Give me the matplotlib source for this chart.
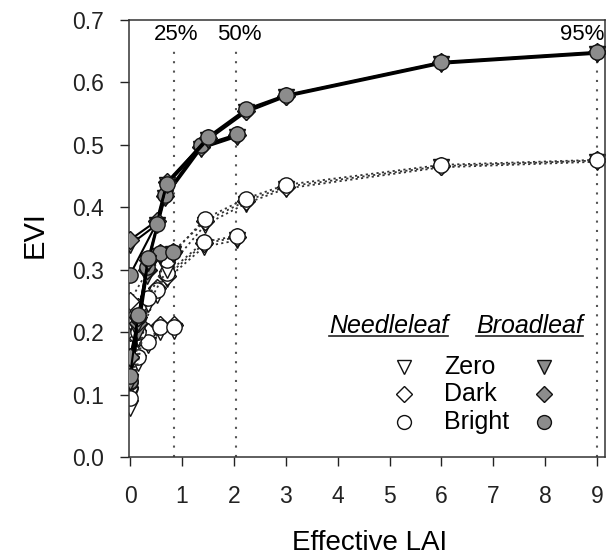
import matplotlib
matplotlib.use("Agg")
import matplotlib.pyplot as plt
import numpy as np
from matplotlib.lines import Line2D
from matplotlib.ticker import FormatStrFormatter

plt.rcParams['font.family'] = ['Liberation Sans', 'DejaVu Sans']

soils = ["Zero", "Dark", "Bright"]
covers = ["25%", "50%", "95%"]
cover_lai = [0.85, 2.05, 9.0]

# needleleaf canopies (effective LAI, EVI per soil background)
needle_lai_25 = [0.0, 0.16, 0.35, 0.58, 0.85]
needle_evi_25 = {"Zero": [0.100, 0.150, 0.180, 0.200, 0.202],
                 "Dark": [0.200, 0.190, 0.200, 0.212, 0.212],
                 "Bright": [0.110, 0.160, 0.185, 0.209, 0.209]}
needle_lai_50 = [0.0, 0.16, 0.51, 0.71, 1.43, 2.06]
needle_evi_50 = {"Zero": [0.100, 0.190, 0.260, 0.285, 0.337, 0.347],
                 "Dark": [0.220, 0.240, 0.270, 0.290, 0.342, 0.352],
                 "Bright": [0.120, 0.200, 0.268, 0.294, 0.345, 0.354]}
needle_lai_95 = [0.0, 0.35, 0.71, 1.45, 2.23, 3.0, 6.0, 9.0]
needle_evi_95 = {"Zero": [0.078, 0.245, 0.300, 0.372, 0.406, 0.430, 0.464, 0.473],
                 "Dark": [0.250, 0.300, 0.320, 0.378, 0.410, 0.433, 0.466, 0.475],
                 "Bright": [0.095, 0.255, 0.316, 0.382, 0.414, 0.436, 0.468, 0.476]}

# broadleaf canopies
broad_lai_25 = [0.0, 0.16, 0.32, 0.58, 0.83]
broad_evi_25 = {"Zero": [0.120, 0.200, 0.290, 0.322, 0.325],
                "Dark": [0.160, 0.215, 0.300, 0.326, 0.328],
                "Bright": [0.121, 0.225, 0.305, 0.327, 0.329]}
broad_lai_50 = [0.0, 0.16, 0.35, 0.67, 1.37, 2.06]
broad_evi_50 = {"Zero": [0.120, 0.215, 0.310, 0.415, 0.494, 0.513],
                "Dark": [0.160, 0.225, 0.315, 0.418, 0.497, 0.515],
                "Bright": [0.130, 0.228, 0.318, 0.420, 0.499, 0.517]}
broad_lai_95 = [0.0, 0.51, 0.71, 1.5, 2.23, 3.0, 6.0, 9.0]
broad_evi_95 = {"Zero": [0.340, 0.372, 0.436, 0.508, 0.552, 0.577, 0.630, 0.646],
                "Dark": [0.348, 0.378, 0.441, 0.511, 0.555, 0.579, 0.632, 0.648],
                "Bright": [0.292, 0.374, 0.438, 0.513, 0.557, 0.580, 0.633, 0.649]}

needle = [(needle_lai_25, needle_evi_25), (needle_lai_50, needle_evi_50),
          (needle_lai_95, needle_evi_95)]
broad = [(broad_lai_25, broad_evi_25), (broad_lai_50, broad_evi_50),
         (broad_lai_95, broad_evi_95)]

markers = {"Zero": "v", "Dark": "D", "Bright": "o"}
msize = {"Zero": 11, "Dark": 9, "Bright": 11}
grey = "#8c8c8c"

fig = plt.figure(figsize=(6.06, 5.56), dpi=100)
ax = fig.add_axes([129/606, 1 - 457/556, 476/606, 437/556])

# cover fraction reference lines
ax.vlines(cover_lai, 0, 0.655, colors="#555555", linestyles=(0, (1, 3.5)), lw=1.5, zorder=1)
ax.text(0.88, 0.676, covers[0], ha="center", va="center", fontsize=16)
ax.text(2.10, 0.676, covers[1], ha="center", va="center", fontsize=16)
ax.text(9.13, 0.676, covers[2], ha="right", va="center", fontsize=16)

for lai, evi in needle:
    for s in soils:
        ax.plot(lai, evi[s], color="#333333", lw=1.3, ls=(0, (1.2, 1.8)),
                marker=markers[s], ms=msize[s], mfc="white", mec="#111111",
                mew=1.0, zorder=2)

for lai, evi in broad:
    for s in soils:
        ax.plot(lai, evi[s], color="black", lw=1.5, ls="-",
                marker=markers[s], ms=msize[s], mfc=grey, mec="#111111",
                mew=1.0, zorder=3)

ax.set_xlim(-0.02, 9.15)
ax.set_ylim(0, 0.7)
ax.set_xticks(range(10))
ax.set_yticks(np.arange(0, 0.71, 0.1))
ax.yaxis.set_major_formatter(FormatStrFormatter("%.1f"))
ax.tick_params(direction="out", length=6.5, width=1, labelsize=16.5, colors="#222222")
ax.tick_params(axis="x", pad=14)
ax.tick_params(axis="y", pad=11.5)
for sp in ax.spines.values():
    sp.set_linewidth(1.1)
    sp.set_color("#333333")

ax.set_xlabel("Effective LAI", fontsize=20)
ax.set_ylabel("EVI", fontsize=21)
ax.xaxis.set_label_coords(0.506, -0.166)
ax.yaxis.set_label_coords(-0.168, 0.509)

# legend drawn by hand: header row plus one row per soil background
hdr_n = ax.text(3.83, 0.21, "Needleleaf", style="italic", fontsize=18, va="center")
hdr_b = ax.text(6.67, 0.21, "Broadleaf", style="italic", fontsize=18, va="center")
rows_y = [0.144, 0.101, 0.056]
for s, yy in zip(soils, rows_y):
    ax.plot(5.28, yy, marker=markers[s], ms=msize[s] - 1, mfc="white", mec="#111111",
            mew=1.0, ls="none", zorder=4)
    ax.text(6.05, yy, s, fontsize=18, va="center")
    ax.plot(7.98, yy, marker=markers[s], ms=msize[s] - 1, mfc=grey, mec="#111111",
            mew=1.0, ls="none", zorder=4)

fig.canvas.draw()
inv = fig.transFigure.inverted()
for t in (hdr_n, hdr_b):
    bb = t.get_window_extent()
    (x0, y0), (x1, _) = inv.transform([(bb.x0, bb.y0), (bb.x1, bb.y0)])
    fig.add_artist(Line2D([x0, x1], [y0 + 0.004, y0 + 0.004], color="#222222", lw=1.2))

fig.savefig("out.png", dpi=100)
